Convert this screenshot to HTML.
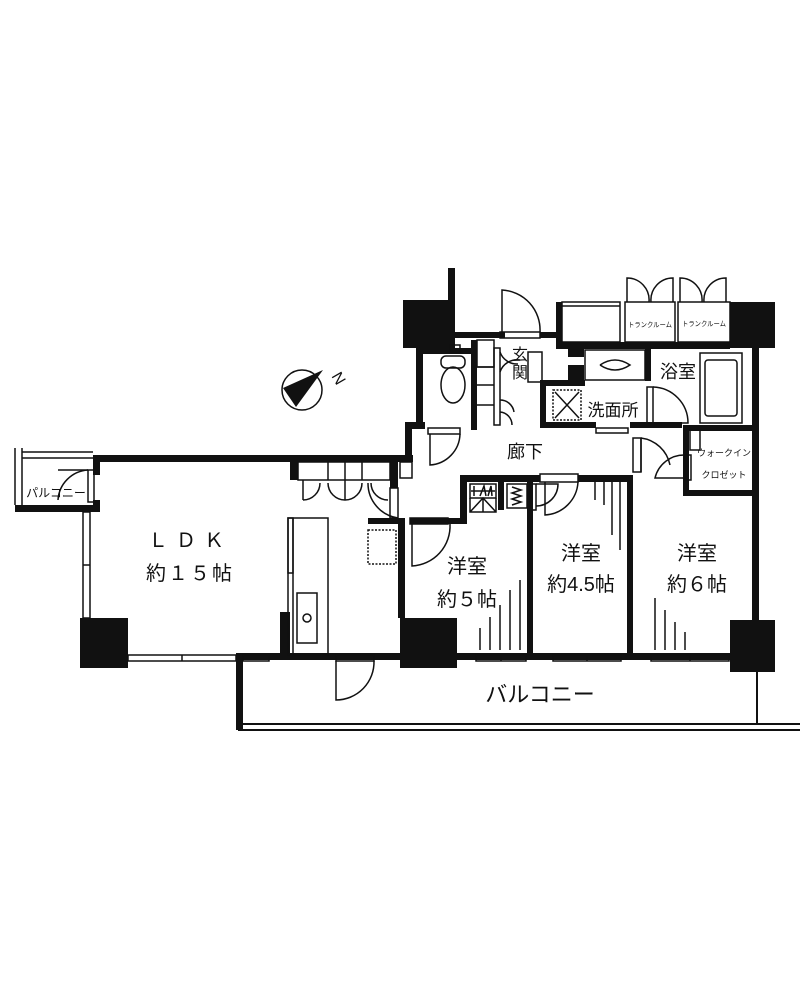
<!DOCTYPE html>
<html><head><meta charset="utf-8"><style>
html,body{margin:0;padding:0;background:#fff;}
svg{display:block;}
text{font-family:"Liberation Sans","Noto Sans CJK JP",sans-serif;fill:#111;}
</style></head><body>
<svg width="800" height="1000" viewBox="0 0 800 1000" xmlns="http://www.w3.org/2000/svg">
<g fill="#111" stroke="none">
<rect x="403" y="300" width="52" height="48"/>
<rect x="730" y="302" width="45" height="46"/>
<rect x="80" y="618" width="48" height="50"/>
<rect x="400" y="618" width="57" height="50"/>
<rect x="730" y="620" width="45" height="52"/>
<rect x="448" y="268" width="7" height="80"/>
<rect x="455" y="332" width="50" height="6"/>
<rect x="540" y="332" width="18" height="6"/>
<rect x="556" y="302" width="6" height="40"/>
<rect x="556" y="342" width="174" height="7"/>
<rect x="752" y="348" width="7" height="272"/>
<rect x="236" y="653" width="164" height="7"/>
<rect x="457" y="653" width="273" height="7"/>
<rect x="236" y="655" width="7" height="75"/>
<rect x="238" y="723" width="562" height="2"/>
<rect x="238" y="729" width="562" height="2"/>
<rect x="756" y="672" width="2" height="52"/>
<rect x="93" y="455" width="320" height="7"/>
<rect x="93" y="455" width="7" height="20"/>
<rect x="93" y="500" width="7" height="12"/>
<rect x="15" y="505" width="85" height="7"/>
<rect x="290" y="462" width="8" height="18"/>
<rect x="390" y="462" width="8" height="26"/>
<rect x="368" y="518" width="37" height="6"/>
<rect x="398" y="518" width="7" height="100"/>
<rect x="280" y="612" width="10" height="45"/>
<rect x="405" y="422" width="7" height="40"/>
<rect x="405" y="422" width="20" height="7"/>
<rect x="410" y="518" width="50" height="6"/>
<rect x="460" y="475" width="7" height="49"/>
<rect x="460" y="475" width="80" height="7"/>
<rect x="578" y="475" width="55" height="7"/>
<rect x="527" y="475" width="6" height="180"/>
<rect x="627" y="475" width="6" height="180"/>
<rect x="498" y="480" width="6" height="30"/>
<rect x="683" y="490" width="75" height="6"/>
<rect x="683" y="430" width="6" height="66"/>
<rect x="683" y="425" width="75" height="6"/>
<rect x="416" y="348" width="7" height="80"/>
<rect x="416" y="348" width="60" height="6"/>
<rect x="471" y="340" width="6" height="90"/>
<rect x="540" y="380" width="6" height="48"/>
<rect x="540" y="380" width="45" height="6"/>
<rect x="546" y="422" width="50" height="6"/>
<rect x="630" y="422" width="52" height="6"/>
<rect x="645" y="349" width="6" height="32"/>
<rect x="568" y="349" width="16" height="8"/>
<rect x="568" y="365" width="16" height="16"/>
</g>
<g fill="none" stroke="#111" stroke-width="1.5">
<rect x="83" y="512" width="7" height="106"/><line x1="83" y1="565" x2="90" y2="565"/>
<rect x="128" y="655" width="108" height="6"/><line x1="182" y1="655" x2="182" y2="661"/>
<rect x="243" y="655" width="26" height="6"/>
<rect x="476" y="655" width="50" height="6"/><line x1="501" y1="655" x2="501" y2="661"/>
<rect x="553" y="655" width="68" height="6"/><line x1="587" y1="655" x2="587" y2="661"/>
<rect x="651" y="655" width="78" height="6"/><line x1="690" y1="655" x2="690" y2="661"/>
<line x1="15" y1="448" x2="15" y2="505"/><line x1="22" y1="448" x2="22" y2="505"/>
<line x1="22" y1="452" x2="93" y2="452"/><line x1="22" y1="458" x2="93" y2="458"/>
<rect x="88" y="470" width="6" height="32"/>
<path d="M88,470 A32,32 0 0 0 58,500"/>
<line x1="58" y1="470" x2="88" y2="470"/>
<rect x="298" y="462" width="92" height="18"/>
<line x1="328" y1="462" x2="328" y2="480"/><line x1="345" y1="462" x2="345" y2="500"/><line x1="362" y1="462" x2="362" y2="480"/>
<path d="M303,480 V500 M303,500 A17,17 0 0 0 320,483 M345,500 A17,17 0 0 1 328,483 M345,500 A17,17 0 0 0 362,483 M388,500 A17,17 0 0 1 371,483"/>
<rect x="390" y="488" width="8" height="30"/>
<path d="M368,483 A35,35 0 0 0 398,518"/>
<rect x="400" y="462" width="12" height="16"/>
<rect x="288" y="518" width="40" height="137"/><line x1="293" y1="518" x2="293" y2="655"/>
<rect x="288" y="518" width="5" height="55"/>
<rect x="297" y="593" width="20" height="50"/><circle cx="307" cy="618" r="4"/>
<rect x="368" y="530" width="28" height="34" stroke-dasharray="2,1.5"/>
<rect x="336" y="655" width="38" height="6"/>
<path d="M336,661 V700 A38,38 0 0 0 374,661"/>
<rect x="410" y="518" width="38" height="6"/>
<path d="M412,524 V566 A40,40 0 0 0 450,524"/>
<rect x="428" y="428" width="32" height="6"/>
<path d="M430,434 V465 A32,32 0 0 0 460,434"/>
<rect x="470" y="484" width="26" height="14"/>
<path d="M471,491 H495 M474,486 V496 M480,496 L484,486 L486,496 M488,496 L491,486 L492,496"/>
<path d="M470,498 V512 H496 V498 M470,512 L483,498 L496,512 M483,498 V512"/>
<rect x="507" y="484" width="20" height="24"/>
<path d="M512,487 L521,490 L512,493 L521,496 L512,499 L521,502 L512,505"/>
<rect x="540" y="474" width="38" height="8"/>
<rect x="530" y="484" width="6" height="26"/>
<path d="M536,484 H558 A22,22 0 0 1 536,506"/>
<path d="M545,482 V515 A35,35 0 0 0 578,482"/>
<path d="M595,482 V500 M604,482 V505 M612,482 V535 M620,482 V550 M480,650 V628 M490,650 V617 M500,650 V605 M510,650 V590 M520,650 V580 M655,650 V598 M665,650 V610 M675,650 V622 M685,650 V632"/>
<rect x="633" y="438" width="8" height="34"/>
<path d="M641,438 A34,34 0 0 1 670,465 M641,472 V438"/>
<rect x="685" y="455" width="6" height="25"/>
<path d="M685,478 H655 A30,30 0 0 1 685,455"/>
<rect x="690" y="430" width="10" height="20"/>
<rect x="500" y="332" width="40" height="6"/>
<path d="M502,332 V290 A40,40 0 0 1 540,332"/>
<rect x="477" y="340" width="17" height="27"/>
<rect x="494" y="348" width="6" height="77"/>
<path d="M477,367 H494 M477,385 H494 M477,405 H494"/>
<path d="M500,400 A14,14 0 0 1 514,412 M500,412 A13,13 0 0 1 512,425 M500,372 A18,18 0 0 1 520,360 M500,352 A18,18 0 0 0 518,364"/>
<rect x="528" y="352" width="14" height="30"/>
<rect x="450" y="345" width="10" height="8"/>
<ellipse cx="453" cy="385" rx="12" ry="18"/><rect x="441" y="356" width="24" height="12" rx="5"/>
<rect x="585" y="350" width="60" height="30"/>
<path d="M600,365 Q615,355 630,365 Q615,375 600,365"/>
<rect x="553" y="390" width="28" height="30" stroke-dasharray="2,1.5"/>
<path d="M555,392 L579,418 M579,392 L555,418"/>
<rect x="596" y="428" width="32" height="5"/>
<rect x="647" y="387" width="6" height="36"/>
<path d="M653,387 A36,36 0 0 1 688,423 H653"/>
<rect x="700" y="353" width="42" height="70"/><rect x="705" y="360" width="32" height="56" rx="3"/>
<rect x="562" y="302" width="58" height="40"/><line x1="562" y1="306" x2="620" y2="306"/>
<rect x="625" y="302" width="50" height="40"/>
<rect x="678" y="302" width="52" height="40"/>
<path d="M627,302 V278 A22,22 0 0 1 649,302 M673,302 V278 A22,22 0 0 0 651,302 M680,302 V278 A22,22 0 0 1 702,302 M726,302 V278 A22,22 0 0 0 704,302"/>
<circle cx="302" cy="390" r="20"/>
</g>
<path d="M283,388 L323,370 L296,407 Z" fill="#111"/>
<text x="0" y="0" font-size="16" text-anchor="middle" transform="translate(334,381) rotate(60)">N</text>
<text x="520" y="360" font-size="16" text-anchor="middle">玄</text>
<text x="520" y="378" font-size="16" text-anchor="middle">関</text>
<text x="678" y="378" font-size="18" text-anchor="middle">浴室</text>
<text x="613" y="416" font-size="17" text-anchor="middle">洗面所</text>
<text x="525" y="458" font-size="18" text-anchor="middle">廊下</text>
<text x="190" y="547" font-size="20" text-anchor="middle" letter-spacing="8">ＬＤＫ</text>
<text x="190" y="580" font-size="20" text-anchor="middle" letter-spacing="2">約１５帖</text>
<text x="467" y="573" font-size="20" text-anchor="middle">洋室</text>
<text x="467" y="606" font-size="20" text-anchor="middle">約５帖</text>
<text x="581" y="560" font-size="20" text-anchor="middle">洋室</text>
<text x="581" y="591" font-size="20" text-anchor="middle">約4.5帖</text>
<text x="697" y="560" font-size="20" text-anchor="middle">洋室</text>
<text x="697" y="591" font-size="20" text-anchor="middle">約６帖</text>
<text x="540" y="702" font-size="22" text-anchor="middle">バルコニー</text>
<text x="56" y="497" font-size="12" text-anchor="middle">パルコニー</text>
<text x="650" y="327" font-size="7" text-anchor="middle" textLength="44" lengthAdjust="spacingAndGlyphs">トランクルーム</text>
<text x="704" y="326" font-size="7" text-anchor="middle" textLength="44" lengthAdjust="spacingAndGlyphs">トランクルーム</text>
<text x="724" y="456" font-size="9" text-anchor="middle">ウォークイン</text>
<text x="724" y="478" font-size="9" text-anchor="middle">クロゼット</text>
</svg>
</body></html>
